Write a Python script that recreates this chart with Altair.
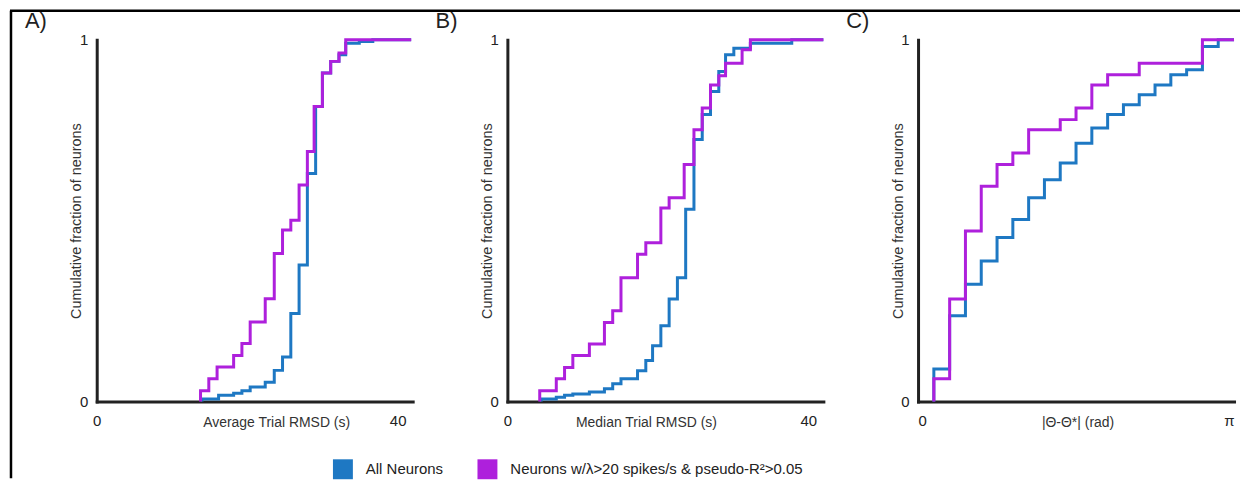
import math
import altair as alt
import pandas as pd

SERIES = ["All Neurons", "Neurons w/λ>20 spikes/s & pseudo-R²>0.05"]
COLORS = ["#1E78C3", "#AE20DC"]
FONT = "Liberation Sans"

# ---- Panel A: Average Trial RMSD (s)
a_blue_x = [14.0, 16.2, 18.2, 19.3, 20.4, 22.4, 23.6, 24.7, 25.8, 26.9, 28.0, 29.1, 30.0, 31.1, 32.2, 33.1, 34.9, 36.7, 41.8]
a_blue_f = [0.007, 0.017, 0.023, 0.030, 0.040, 0.053, 0.086, 0.123, 0.243, 0.377, 0.630, 0.815, 0.908, 0.940, 0.958, 0.990, 0.995, 1.0, 1.0]
a_purple_x = [13.8, 14.9, 16.0, 18.2, 19.3, 20.4, 22.4, 23.6, 24.7, 25.8, 26.9, 28.0, 28.9, 30.0, 31.1, 32.2, 33.1, 41.8]
a_purple_f = [0.030, 0.063, 0.095, 0.127, 0.160, 0.220, 0.284, 0.409, 0.474, 0.501, 0.598, 0.691, 0.815, 0.908, 0.940, 0.963, 1.0, 1.0]

# ---- Panel B: Median Trial RMSD (s)
b_blue_x = [4.5, 6.5, 7.6, 8.7, 10.9, 12.9, 14.0, 15.1, 17.3, 18.4, 19.3, 20.4, 21.5, 22.6, 23.7, 24.8, 25.9, 27.0, 28.1, 29.0, 30.1, 32.3, 37.8, 42.0]
b_blue_f = [0.007, 0.012, 0.017, 0.021, 0.026, 0.035, 0.049, 0.063, 0.085, 0.113, 0.154, 0.209, 0.283, 0.342, 0.531, 0.724, 0.793, 0.857, 0.912, 0.958, 0.976, 0.990, 1.0, 1.0]
b_purple_x = [4.3, 6.5, 7.6, 8.7, 10.9, 12.9, 14.0, 15.1, 17.3, 18.4, 20.4, 21.5, 23.5, 24.8, 25.9, 27.0, 28.1, 29.0, 31.2, 32.3, 42.0]
b_purple_f = [0.030, 0.063, 0.094, 0.127, 0.159, 0.218, 0.251, 0.342, 0.407, 0.439, 0.535, 0.563, 0.655, 0.751, 0.811, 0.875, 0.900, 0.935, 0.972, 1.0, 1.0]

# ---- Panel C: |Θ-Θ*| (rad), bins of π/20
c_blue_k = [1, 2, 3, 4, 5, 6, 7, 8, 9, 10, 11, 12, 13, 14, 15, 16, 17, 18, 19, 20]
c_blue_f = [0.090, 0.237, 0.324, 0.388, 0.453, 0.503, 0.563, 0.613, 0.659, 0.714, 0.756, 0.793, 0.820, 0.848, 0.875, 0.903, 0.917, 0.981, 1.0, 1.0]
c_purple_k = [1, 2, 3, 4, 5, 6, 7, 9, 10, 11, 12, 14, 18, 20]
c_purple_f = [0.063, 0.283, 0.471, 0.595, 0.655, 0.687, 0.751, 0.779, 0.811, 0.875, 0.903, 0.935, 1.0, 1.0]

W, H = 317, 363


def step_df(xs, fs):
    return pd.DataFrame({"x": [xs[0]] + list(xs), "f": [0.0] + list(fs)})


def panel(bx, bf, px, pf, xmax, xvals, label_expr, xtitle, title_x, letter, flush, border=False):
    xscale = alt.Scale(domain=[0, xmax], nice=False, zero=False)
    yscale = alt.Scale(domain=[0, 1], nice=False)
    xaxis = alt.Axis(values=xvals, labelExpr=label_expr, ticks=False, grid=False,
                     title=xtitle, titleX=title_x, titleY=14, titleBaseline="top",
                     titleFontWeight="normal", titleFontSize=14, titleColor="#333",
                     titleFont=FONT, labelFont=FONT, labelFontSize=15, labelColor="#222",
                     labelPadding=12, labelFlush=flush, domainWidth=3, domainColor="#222",
                     domainCap="square")
    yaxis = alt.Axis(values=[0, 1], labelExpr="datum.value == 0 ? '0' : '1'", ticks=False,
                     grid=False, title="Cumulative fraction of neurons",
                     titleFontWeight="normal", titleFontSize=14.5, titleColor="#333", titleFont=FONT,
                     titleX=-13, titleY=H / 2, titleAngle=270,
                     labelFont=FONT, labelFontSize=15, labelColor="#222", labelPadding=9,
                     labelFlush=False, domainWidth=3, domainColor="#222",
                     domainCap="square")
    blue = alt.Chart(step_df(bx, bf)).mark_line(interpolate="step-after", strokeWidth=3,
                                                color=COLORS[0]).encode(
        x=alt.X("x:Q", scale=xscale, axis=xaxis),
        y=alt.Y("f:Q", scale=yscale, axis=yaxis),
    )
    purple = alt.Chart(step_df(px, pf)).mark_line(interpolate="step-after", strokeWidth=3,
                                                   color=COLORS[1]).encode(
        x=alt.X("x:Q", scale=xscale), y=alt.Y("f:Q", scale=yscale))
    leg = alt.Chart(pd.DataFrame({"series": SERIES})).mark_square(size=0).encode(
        x=alt.value(0), y=alt.value(0),
        color=alt.Color("series:N", scale=alt.Scale(domain=SERIES, range=COLORS),
                        legend=alt.Legend(orient="none", legendX=237, legendY=421,
                                          direction="horizontal", title=None,
                                          symbolType="square", symbolSize=400,
                                          symbolOpacity=1, symbolStrokeWidth=0,
                                          labelFont=FONT, labelLimit=0,
                                          labelFontSize=15, labelColor="#222",
                                          labelOffset=13, columnPadding=34, padding=0)))
    txt = alt.Chart(pd.DataFrame({"t": [letter]})).mark_text(
        font=FONT, fontSize=22, color="#222", align="left", baseline="middle").encode(
        text="t:N", x=alt.value(-72), y=alt.value(-19))
    layers = [blue, purple, leg, txt]
    if border:
        one = pd.DataFrame({"a": [0]})
        top = alt.Chart(one).mark_rule(color="#000", strokeWidth=2.5).encode(
            x=alt.value(-87), x2=alt.value(1147), y=alt.value(-29))
        left = alt.Chart(one).mark_rule(color="#000", strokeWidth=2.5).encode(
            x=alt.value(-86), y=alt.value(-29), y2=alt.value(440))
        layers += [top, left]
    return alt.layer(*layers).properties(width=W, height=H)


pA = panel(a_blue_x, a_blue_f, a_purple_x, a_purple_f, 42, [0, 40],
           "datum.value == 0 ? '0' : '40'", "Average Trial RMSD (s)", 180, "A)", False, border=True)
pB = panel(b_blue_x, b_blue_f, b_purple_x, b_purple_f, 42, [0, 40],
           "datum.value == 0 ? '0' : '40'", "Median Trial RMSD (s)", 139, "B)", False)
c_bx = [k * math.pi / 20 for k in c_blue_k]
c_px = [k * math.pi / 20 for k in c_purple_k]
pC = panel(c_bx, c_blue_f, c_px, c_purple_f, math.pi, [0, math.pi],
           "datum.value == 0 ? '0' : 'π'", "|Θ-Θ*| (rad)", 160, "C)", True)

chart = alt.hconcat(pA, pB, pC, spacing=95, bounds="flush").configure(
    padding=0, background="white").configure_view(stroke=None)

chart.save("out.html", embed_options={"renderer": "svg", "actions": False})
